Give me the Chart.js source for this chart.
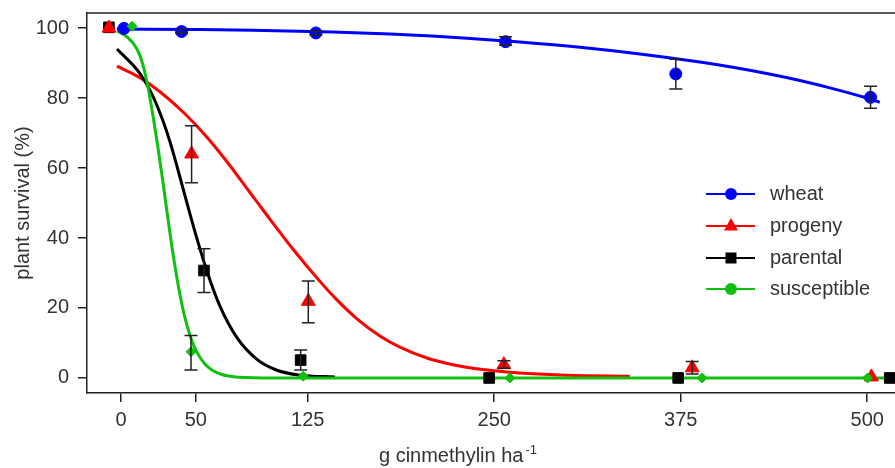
<!DOCTYPE html>
<html>
<head>
<meta charset="utf-8">
<script src="https://cdn.jsdelivr.net/npm/chart.js@4.4.1/dist/chart.umd.min.js"></script>
<style>
  html, body { margin: 0; padding: 0; background: #fff; overflow: hidden; }
  #wrap { width: 895px; height: 468px; }
</style>
</head>
<body>
<div id="wrap"><canvas id="chart" width="895" height="468"></canvas></div>
<script>
// axis ticks and titles
const xTickValues = [0, 50, 125, 250, 375, 500];
const yTickValues = [0, 20, 40, 60, 80, 100];
const yTitle = 'plant survival (%)';
const xTitleMain = 'g cinmethylin ha';
const xTitleSup = '-1';

const seriesNames = ['wheat', 'progeny', 'parental', 'susceptible'];

// observed means (points are dodged a little sideways in the original)
const wheatX = [1.9, 40.5, 130.5, 257.6, 371.7, 502.2];
const wheatY = [99.9, 99.0, 98.6, 96.1, 86.9, 80.2];
const wheatLo = [null, 98.5, 98.1, 95.1, 82.6, 77.1];
const wheatHi = [null, 99.5, 99.1, 97.5, 91.1, 83.4];

const progenyX = [-8.2, 47.2, 125.4, 256.5, 382.7, 502.8];
const progenyY = [100, 64, 21.9, 3.8, 2.9, 0.3];
const progenyLo = [null, 55.8, 15.8, 2.8, 1.1, null];
const progenyHi = [null, 72.1, 27.7, 4.9, 4.7, null];

const parentalX = [-8.2, 55.5, 120.3, 246.6, 373.3, 515.1];
const parentalY = [100.2, 30.7, 5.1, 0, 0, 0];
const parentalLo = [null, 24.4, 2.3, null, null, null];
const parentalHi = [null, 36.9, 8.0, null, null, null];

const suscX = [7.3, 46.8, 122.0, 260.5, 389.3, 500.2];
const suscY = [100.5, 7.5, 0.5, 0, 0, 0];
const suscLo = [null, 2.3, null, null, null, null];
const suscHi = [null, 12.1, null, null, null, null];

// fitted dose-response curves
const wheatCurveX = [-2.8, 52.8, 88.3, 141.9, 180.1, 208.2, 231.7, 267.2, 307.4, 347.6, 387.8, 409.9, 432.7, 454.8, 476.9, 499.7, 508.4];
const wheatCurveY = [99.7, 99.6, 99.4, 98.9, 98.3, 97.7, 97.1, 96.0, 94.5, 92.6, 90.3, 88.8, 87.0, 85.0, 82.7, 80.0, 78.8];

const progenyCurveX = [-2.8, 12.6, 26.0, 42.7, 57.5, 70.9, 86.3, 97.7, 115.2, 133.2, 144.6, 158.0, 173.4, 186.8, 204.9, 222.3, 242.4, 258.5, 275.9, 298.7, 340.9];
const progenyCurveY = [89.1, 85.8, 81.8, 75.5, 68.8, 61.8, 53.0, 46.5, 36.8, 27.6, 22.3, 16.9, 12.0, 8.8, 5.7, 3.8, 2.4, 1.7, 1.2, 0.8, 0.5];

const parentalCurveX = [-2.8, 12.6, 21.3, 28.0, 32.7, 37.4, 44.1, 50.8, 57.5, 66.2, 77.6, 91.0, 104.4, 119.8, 143.3];
const parentalCurveY = [94, 87, 80.5, 73.5, 67.5, 60.5, 50, 39.8, 30.5, 20.5, 11.5, 5.3, 2.2, 0.8, 0.3];

const suscCurveX = [-2.8, 3.9, 10.6, 14.6, 18.0, 21.3, 24.6, 28.0, 30.7, 34.0, 37.4, 40.7, 44.1, 47.4, 50.8, 56.1, 60.8, 67.5, 76.2, 83.0, 95.0, 516];
const suscCurveY = [99.2, 97.5, 94, 89.5, 83, 75, 66, 56, 47.5, 37.5, 28.5, 21, 15, 10.6, 7.3, 4.0, 2.3, 1.0, 0.3, 0.1, 0, 0];

const colors = ['#0000ff', '#ff0000', '#000000', '#10c010'];
const FONT = '"Liberation Sans", Arial, Helvetica, sans-serif';
const TEXT = '#333333';
const AXIS = '#222222';

function pts(xs, ys) {
  return xs.map((x, i) => ({ x: x, y: ys[i] }));
}

function pointSet(name, xs, ys, lo, hi, color, style, r) {
  return {
    label: name, data: pts(xs, ys), showLine: false,
    pointStyle: style, pointRadius: r, pointHoverRadius: r,
    backgroundColor: color, borderColor: color, pointBorderWidth: 1,
    errLow: lo, errHigh: hi, clip: false
  };
}

function curveSet(name, xs, ys, color) {
  return {
    label: name + ' fit', data: pts(xs, ys), showLine: true,
    borderColor: color, borderWidth: 3, pointRadius: 0,
    cubicInterpolationMode: 'monotone', fill: false
  };
}

// error bars drawn over the points
const errorBars = {
  id: 'errorBars',
  afterDatasetsDraw(chart) {
    const ctx = chart.ctx;
    const ys = chart.scales.y;
    chart.data.datasets.forEach((ds, i) => {
      if (!ds.errLow) return;
      const meta = chart.getDatasetMeta(i);
      meta.data.forEach((p, j) => {
        const lo = ds.errLow[j], hi = ds.errHigh[j];
        if (lo == null || hi == null) return;
        const y1 = ys.getPixelForValue(lo), y2 = ys.getPixelForValue(hi);
        ctx.save();
        ctx.strokeStyle = AXIS;
        ctx.lineWidth = 1.5;
        ctx.beginPath();
        ctx.moveTo(p.x, y1); ctx.lineTo(p.x, y2);
        ctx.moveTo(p.x - 6.5, y1); ctx.lineTo(p.x + 6.5, y1);
        ctx.moveTo(p.x - 6.5, y2); ctx.lineTo(p.x + 6.5, y2);
        ctx.stroke();
        ctx.restore();
      });
    });
  }
};

// top edge of the plot box (the right edge is cut off in the original)
const frameTop = {
  id: 'frameTop',
  afterDraw(chart) {
    const a = chart.chartArea, ctx = chart.ctx;
    ctx.save();
    ctx.strokeStyle = AXIS;
    ctx.lineWidth = 1.5;
    ctx.beginPath();
    ctx.moveTo(a.left - 0.75, a.top);
    ctx.lineTo(a.right, a.top);
    ctx.stroke();
    ctx.restore();
  }
};

function marker(ctx, style, x, y, color) {
  ctx.fillStyle = color;
  ctx.beginPath();
  if (style === 'circle') {
    ctx.arc(x, y, 6, 0, Math.PI * 2);
  } else if (style === 'triangle') {
    ctx.moveTo(x, y - 8); ctx.lineTo(x + 7, y + 4.5); ctx.lineTo(x - 7, y + 4.5); ctx.closePath();
  } else {
    ctx.rect(x - 5.5, y - 5.5, 11, 11);
  }
  ctx.fill();
}

// legend inside the plot: line + marker + name
const legendInside = {
  id: 'legendInside',
  afterDraw(chart) {
    const ctx = chart.ctx;
    const styles = ['circle', 'triangle', 'rect', 'circle'];
    const rows = [194, 226, 258, 289];
    ctx.save();
    seriesNames.forEach((name, i) => {
      const y = rows[i];
      ctx.strokeStyle = colors[i];
      ctx.lineWidth = 2;
      ctx.beginPath();
      ctx.moveTo(706, y); ctx.lineTo(755, y);
      ctx.stroke();
      marker(ctx, styles[i], 731, y, colors[i]);
      ctx.fillStyle = TEXT;
      ctx.font = '20px ' + FONT;
      ctx.textBaseline = 'middle';
      ctx.textAlign = 'left';
      ctx.fillText(name, 770, y);
    });
    ctx.restore();
  }
};

// x title with superscript
const xTitle = {
  id: 'xTitle',
  afterDraw(chart) {
    const ctx = chart.ctx;
    ctx.save();
    ctx.fillStyle = TEXT;
    ctx.textBaseline = 'alphabetic';
    ctx.textAlign = 'left';
    ctx.font = '20px ' + FONT;
    const w1 = ctx.measureText(xTitleMain).width;
    ctx.font = '13px ' + FONT;
    const w2 = ctx.measureText(xTitleSup).width;
    const x0 = 458 - (w1 + 2 + w2) / 2;
    ctx.font = '20px ' + FONT;
    ctx.fillText(xTitleMain, x0, 462);
    ctx.font = '13px ' + FONT;
    ctx.fillText(xTitleSup, x0 + w1 + 2, 454);
    ctx.restore();
  }
};

Chart.defaults.font.family = FONT;
Chart.defaults.font.size = 20;
Chart.defaults.color = TEXT;

new Chart(document.getElementById('chart'), {
  type: 'scatter',
  data: {
    datasets: [
      pointSet('susceptible', suscX, suscY, suscLo, suscHi, colors[3], 'rectRot', 5),
      pointSet('progeny', progenyX, progenyY, progenyLo, progenyHi, colors[1], 'triangle', 8),
      pointSet('wheat', wheatX, wheatY, wheatLo, wheatHi, colors[0], 'circle', 6),
      pointSet('parental', parentalX, parentalY, parentalLo, parentalHi, colors[2], 'rect', 7.5),
      curveSet('susceptible', suscCurveX, suscCurveY, colors[3]),
      curveSet('wheat', wheatCurveX, wheatCurveY, colors[0]),
      curveSet('parental', parentalCurveX, parentalCurveY, colors[2]),
      curveSet('progeny', progenyCurveX, progenyCurveY, colors[1])
    ]
  },
  options: {
    responsive: false,
    animation: false,
    devicePixelRatio: 1,
    layout: { autoPadding: false, padding: { top: 13, right: 0, left: 0, bottom: 0 } },
    plugins: {
      legend: { display: false },
      tooltip: { enabled: false }
    },
    scales: {
      x: {
        type: 'linear',
        min: -22.9,
        max: 518.6,
        afterBuildTicks(scale) { scale.ticks = xTickValues.map(v => ({ value: v })); },
        afterFit(scale) { scale.height = 75; scale.paddingLeft = 0; scale.paddingRight = 0; },
        ticks: { padding: 6, color: TEXT, font: { size: 20 }, maxRotation: 0 },
        grid: { drawOnChartArea: false, drawTicks: true, tickLength: 9, color: AXIS, lineWidth: 1.5 },
        border: { display: true, color: AXIS, width: 1.5 },
        title: { display: false }
      },
      y: {
        type: 'linear',
        min: -4.3,
        max: 104.3,
        afterBuildTicks(scale) { scale.ticks = yTickValues.map(v => ({ value: v })); },
        afterFit(scale) { scale.width = 87; scale.paddingTop = 0; scale.paddingBottom = 0; },
        ticks: { padding: 9, color: TEXT, font: { size: 20 } },
        grid: { drawOnChartArea: false, drawTicks: true, tickLength: 9, color: AXIS, lineWidth: 1.5 },
        border: { display: true, color: AXIS, width: 1.5 },
        title: { display: true, text: yTitle, color: TEXT, font: { size: 20 }, padding: { top: 11, bottom: 0 } }
      }
    }
  },
  plugins: [errorBars, frameTop, legendInside, xTitle]
});
</script>
</body>
</html>
